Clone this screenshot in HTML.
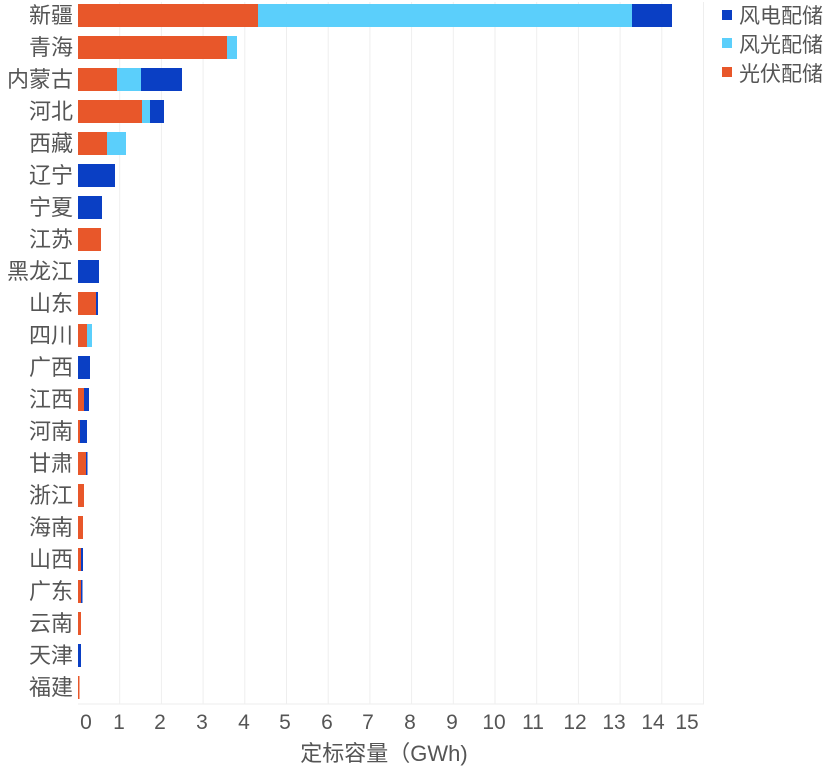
<!DOCTYPE html>
<html><head><meta charset="utf-8"><style>
html,body{margin:0;padding:0;background:#fff;}
svg text{font-family:"Liberation Sans","Noto Sans CJK SC",sans-serif;fill:#555;}
</style></head><body>
<svg width="830" height="774" xmlns="http://www.w3.org/2000/svg">
<g stroke="#eeeeee" stroke-width="1">
<line x1="119.7" y1="2" x2="119.7" y2="704"/><line x1="161.4" y1="2" x2="161.4" y2="704"/><line x1="203.1" y1="2" x2="203.1" y2="704"/><line x1="244.8" y1="2" x2="244.8" y2="704"/><line x1="286.5" y1="2" x2="286.5" y2="704"/><line x1="328.2" y1="2" x2="328.2" y2="704"/><line x1="369.9" y1="2" x2="369.9" y2="704"/><line x1="411.6" y1="2" x2="411.6" y2="704"/><line x1="453.3" y1="2" x2="453.3" y2="704"/><line x1="495" y1="2" x2="495" y2="704"/><line x1="536.7" y1="2" x2="536.7" y2="704"/><line x1="578.4" y1="2" x2="578.4" y2="704"/><line x1="620.1" y1="2" x2="620.1" y2="704"/><line x1="661.8" y1="2" x2="661.8" y2="704"/><line x1="703.5" y1="2" x2="703.5" y2="704"/>
<line x1="78" y1="704" x2="704" y2="704"/>
</g>
<g id="bars">
<rect x="78" y="4" width="180" height="23" fill="#e8572a"/><rect x="258" y="4" width="374" height="23" fill="#5bcffb"/><rect x="632" y="4" width="40" height="23" fill="#0a3fc4"/>
<rect x="78" y="36" width="149" height="23" fill="#e8572a"/><rect x="227" y="36" width="10" height="23" fill="#5bcffb"/>
<rect x="78" y="68" width="39" height="23" fill="#e8572a"/><rect x="117" y="68" width="24" height="23" fill="#5bcffb"/><rect x="141" y="68" width="41" height="23" fill="#0a3fc4"/>
<rect x="78" y="100" width="64" height="23" fill="#e8572a"/><rect x="142" y="100" width="8" height="23" fill="#5bcffb"/><rect x="150" y="100" width="14" height="23" fill="#0a3fc4"/>
<rect x="78" y="132" width="29" height="23" fill="#e8572a"/><rect x="107" y="132" width="19" height="23" fill="#5bcffb"/>
<rect x="78" y="164" width="37" height="23" fill="#0a3fc4"/>
<rect x="78" y="196" width="24" height="23" fill="#0a3fc4"/>
<rect x="78" y="228" width="23" height="23" fill="#e8572a"/>
<rect x="78" y="260" width="21" height="23" fill="#0a3fc4"/>
<rect x="78" y="292" width="18" height="23" fill="#e8572a"/><rect x="96" y="292" width="2" height="23" fill="#0a3fc4"/>
<rect x="78" y="324" width="9" height="23" fill="#e8572a"/><rect x="87" y="324" width="5" height="23" fill="#5bcffb"/>
<rect x="78" y="356" width="12" height="23" fill="#0a3fc4"/>
<rect x="78" y="388" width="6" height="23" fill="#e8572a"/><rect x="84" y="388" width="5" height="23" fill="#0a3fc4"/>
<rect x="78" y="420" width="2" height="23" fill="#e8572a"/><rect x="80" y="420" width="7" height="23" fill="#0a3fc4"/>
<rect x="78" y="452" width="8" height="23" fill="#e8572a"/><rect x="86" y="452" width="1.5" height="23" fill="#0a3fc4"/>
<rect x="78" y="484" width="6" height="23" fill="#e8572a"/>
<rect x="78" y="516" width="5" height="23" fill="#e8572a"/>
<rect x="78" y="548" width="3" height="23" fill="#e8572a"/><rect x="81" y="548" width="2" height="23" fill="#0a3fc4"/>
<rect x="78" y="580" width="3" height="23" fill="#e8572a"/><rect x="81" y="580" width="1.5" height="23" fill="#0a3fc4"/>
<rect x="78" y="612" width="3" height="23" fill="#e8572a"/>
<rect x="78" y="644" width="3" height="23" fill="#0a3fc4"/>
<rect x="78" y="676" width="1.5" height="23" fill="#e8572a"/>
</g>
<g font-size="22" text-anchor="end">
<text x="73" y="23">新疆</text><text x="73" y="55">青海</text><text x="73" y="87">内蒙古</text><text x="73" y="119">河北</text><text x="73" y="151">西藏</text><text x="73" y="183">辽宁</text><text x="73" y="215">宁夏</text><text x="73" y="247">江苏</text><text x="73" y="279">黑龙江</text><text x="73" y="311">山东</text><text x="73" y="343">四川</text><text x="73" y="375">广西</text><text x="73" y="407">江西</text><text x="73" y="439">河南</text><text x="73" y="471">甘肃</text><text x="73" y="503">浙江</text><text x="73" y="535">海南</text><text x="73" y="567">山西</text><text x="73" y="599">广东</text><text x="73" y="631">云南</text><text x="73" y="663">天津</text><text x="73" y="695">福建</text>
</g>
<g font-size="21" text-anchor="middle">
<text x="86" y="729">0</text><text x="119" y="729">1</text><text x="160" y="729">2</text><text x="202" y="729">3</text><text x="244" y="729">4</text><text x="285" y="729">5</text><text x="327" y="729">6</text><text x="368" y="729">7</text><text x="410" y="729">8</text><text x="452" y="729">9</text><text x="494" y="729">10</text><text x="533" y="729">11</text><text x="575" y="729">12</text><text x="614" y="729">13</text><text x="653" y="729">14</text><text x="687" y="729">15</text>
</g>
<text x="384" y="761" font-size="22" text-anchor="middle">定标容量（GWh)</text>
<g font-size="21">
<rect x="722" y="10" width="10" height="10" fill="#0a3fc4"/><text x="739" y="23">风电配储</text>
<rect x="722" y="38" width="10" height="10" fill="#5bcffb"/><text x="739" y="52">风光配储</text>
<rect x="722" y="67" width="10" height="10" fill="#e8572a"/><text x="739" y="81">光伏配储</text>
</g>
</svg>
</body></html>
